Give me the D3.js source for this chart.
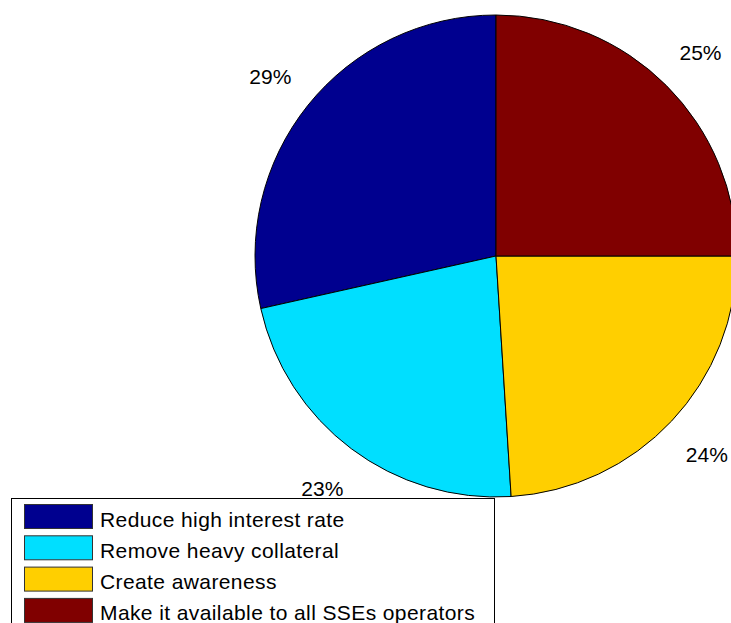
<!DOCTYPE html>
<html>
<head>
<meta charset="utf-8">
<script src="https://cdn.jsdelivr.net/npm/d3@7"></script>
<style>
html,body{margin:0;padding:0;background:#fff;}
svg{display:block;}
text{font-family:"Liberation Sans",Arial,sans-serif;}
</style>
</head>
<body>
<svg id="chart" width="731" height="623"></svg>
<script>
const categories = ["Reduce high interest rate","Remove heavy collateral","Create awareness","Make it available to all SSEs operators"];
const values = [57, 45, 48, 50];
const colors = ["#00008F","#00DFFF","#FFCF00","#800000"];

const svg = d3.select("#chart");
const cx = 496, cy = 256, R = 241;
const total = d3.sum(values);

const pie = d3.pie().sort(null).value(d => d.v).startAngle(0).endAngle(-2*Math.PI);
const data = pie(values.map((v,i)=>({v, i})));
const arc = d3.arc().innerRadius(0).outerRadius(R);

const g = svg.append("g").attr("transform",`translate(${cx},${cy})`);
g.selectAll("path").data(data).enter().append("path")
  .attr("d", arc)
  .attr("fill", d => colors[d.data.i])
  .attr("stroke","#000").attr("stroke-width",1);

g.selectAll("text.pct").data(data).enter().append("text")
  .attr("class","pct")
  .attr("x", d => { const a=(d.startAngle+d.endAngle)/2; return 1.2*R*Math.sin(a); })
  .attr("y", d => { const a=(d.startAngle+d.endAngle)/2; return -1.2*R*Math.cos(a); })
  .attr("dy","0.4em")
  .attr("text-anchor","middle")
  .attr("font-size",21)
  .text(d => Math.round(100*d.data.v/total) + "%");

// legend
const lg = svg.append("g");
lg.append("rect").attr("x",11.5).attr("y",498.5).attr("width",483).attr("height",140)
  .attr("fill","#fff").attr("stroke","#000").attr("stroke-width",1);
const rows = lg.selectAll("g.row").data(categories).enter().append("g")
  .attr("transform",(d,i)=>`translate(0,${504 + 31.3*i})`);
rows.append("rect").attr("x",24.5).attr("y",0.5).attr("width",68).attr("height",24)
  .attr("fill",(d,i)=>colors[i]).attr("stroke","#333").attr("stroke-width",1);
rows.append("text").attr("x",100).attr("y",22.5).attr("font-size",21)
  .attr("letter-spacing","0.4px").text(d=>d);
</script>
</body>
</html>
